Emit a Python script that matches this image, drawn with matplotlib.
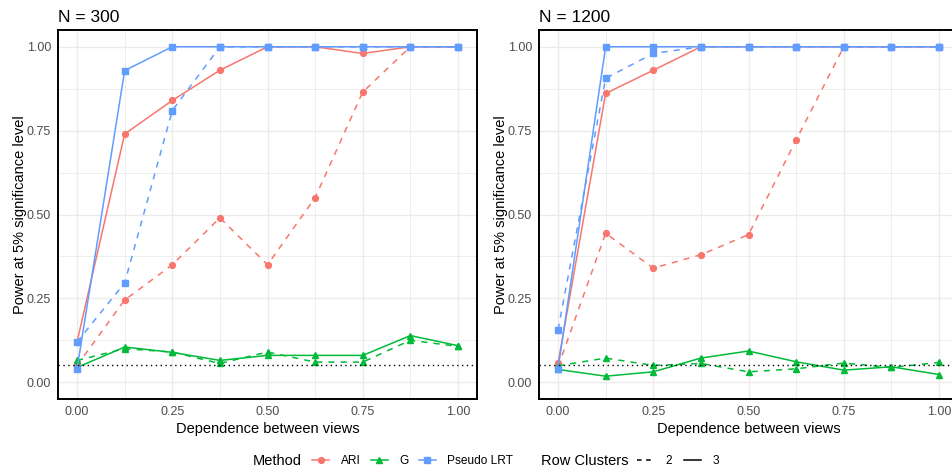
import numpy as np
import matplotlib.pyplot as plt
from matplotlib.lines import Line2D

plt.rcParams['font.family'] = ['Liberation Sans', 'DejaVu Sans']

# dependence between views (x axis)
dependence = [0, 0.125, 0.25, 0.375, 0.5, 0.625, 0.75, 0.875, 1.0]
titles = ['N = 300', 'N = 1200']

# N = 300
ari_2_n300 = [0.05, 0.245, 0.35, 0.49, 0.35, 0.55, 0.865, 1.0, 1.0]
ari_3_n300 = [0.12, 0.74, 0.84, 0.93, 1.0, 1.0, 0.98, 1.0, 1.0]
g_2_n300 = [0.065, 0.10, 0.09, 0.056, 0.09, 0.06, 0.06, 0.125, 0.107]
g_3_n300 = [0.044, 0.105, 0.089, 0.065, 0.08, 0.08, 0.08, 0.139, 0.109]
lrt_2_n300 = [0.12, 0.296, 0.81, 1.0, 1.0, 1.0, 1.0, 1.0, 1.0]
lrt_3_n300 = [0.04, 0.929, 1.0, 1.0, 1.0, 1.0, 1.0, 1.0, 1.0]

# N = 1200
ari_2_n1200 = [0.046, 0.444, 0.34, 0.38, 0.44, 0.722, 1.0, 1.0, 1.0]
ari_3_n1200 = [0.056, 0.861, 0.93, 1.0, 1.0, 1.0, 1.0, 1.0, 1.0]
g_2_n1200 = [0.049, 0.072, 0.05, 0.056, 0.031, 0.04, 0.057, 0.044, 0.059]
g_3_n1200 = [0.038, 0.018, 0.031, 0.072, 0.093, 0.061, 0.036, 0.046, 0.023]
lrt_2_n1200 = [0.157, 0.906, 0.98, 1.0, 1.0, 1.0, 1.0, 1.0, 1.0]
lrt_3_n1200 = [0.04, 1.0, 1.0, 1.0, 1.0, 1.0, 1.0, 1.0, 1.0]

methods = ['ARI', 'G', 'Pseudo LRT']
colors = {'ARI': '#F8766D', 'G': '#00BA38', 'Pseudo LRT': '#619CFF'}
markers = {'ARI': 'o', 'G': '^', 'Pseudo LRT': 's'}
msize = {'ARI': 4.2, 'G': 5.0, 'Pseudo LRT': 4.5}

panels = [
    {'ARI': (ari_2_n300, ari_3_n300), 'G': (g_2_n300, g_3_n300),
     'Pseudo LRT': (lrt_2_n300, lrt_3_n300)},
    {'ARI': (ari_2_n1200, ari_3_n1200), 'G': (g_2_n1200, g_3_n1200),
     'Pseudo LRT': (lrt_2_n1200, lrt_3_n1200)},
]

W, H = 952, 473
fig = plt.figure(figsize=(W / 100, H / 100), dpi=100)

ax_lefts = [58, 539]
axes = []
for k, left in enumerate(ax_lefts):
    ax = fig.add_axes([left / W, 1 - 399 / H, 419 / W, (399 - 30) / H])
    axes.append(ax)
    data = panels[k]
    for m in methods:
        y2, y3 = data[m]
        ax.plot(dependence, y2, color=colors[m], lw=1.1, dashes=(4, 4),
                marker=markers[m], ms=msize[m], zorder=3)
        ax.plot(dependence, y3, color=colors[m], lw=1.1, ls='-',
                marker=markers[m], ms=msize[m], zorder=3)
    ax.axhline(0.05, color='black', lw=1.0, ls=(0, (1, 2.5)), zorder=4)

    ax.set_xlim(-0.05, 1.05)
    ax.set_ylim(-0.05, 1.05)
    ax.set_xticks([0, 0.25, 0.5, 0.75, 1.0])
    ax.set_xticklabels(['0.00', '0.25', '0.50', '0.75', '1.00'])
    ax.set_yticks([0, 0.25, 0.5, 0.75, 1.0])
    ax.set_yticklabels(['0.00', '0.25', '0.50', '0.75', '1.00'])
    ax.set_xticks(dependence[1::2], minor=True)
    ax.set_yticks([0.125, 0.375, 0.625, 0.875], minor=True)
    ax.grid(True, which='major', color='#EBEBEB', lw=1.0)
    ax.grid(True, which='minor', color='#EBEBEB', lw=0.6)
    ax.set_axisbelow(True)
    ax.tick_params(which='both', length=0, labelsize=9, labelcolor='#4D4D4D', pad=5)
    for sp in ax.spines.values():
        sp.set_color('black')
        sp.set_linewidth(1.4)
    ax.set_xlabel('Dependence between views', fontsize=10.5, labelpad=3)
    ax.set_ylabel('Power at 5% significance level', fontsize=10.5, labelpad=0)
    ax.set_title(titles[k], loc='left', fontsize=12.5, pad=6)

# legends
fig.text(253 / W, 1 - 461 / H, 'Method', fontsize=10.5, va='center', ha='left')
method_handles = [Line2D([], [], color=colors[m], lw=1.1, marker=markers[m], ms=4.2)
                  for m in methods]
leg1 = fig.legend(method_handles, methods, loc='center left', ncol=3,
                  bbox_to_anchor=(312 / W, 1 - 461 / H), frameon=False,
                  fontsize=8.6, handlelength=1.45, handletextpad=0.95,
                  columnspacing=0.85, borderpad=0, borderaxespad=0)
fig.text(541 / W, 1 - 461 / H, 'Row Clusters', fontsize=10.5, va='center', ha='left')
ls_handles = [Line2D([], [], color='black', lw=1.1, dashes=(3, 3)),
              Line2D([], [], color='black', lw=1.1, ls='-')]
leg2 = fig.legend(ls_handles, ['2', '3'], loc='center left', ncol=2,
                  bbox_to_anchor=(637 / W, 1 - 461 / H), frameon=False,
                  fontsize=8.6, handlelength=1.45, handletextpad=0.95,
                  columnspacing=0.95, borderpad=0, borderaxespad=0)

fig.savefig('out.png', dpi=100)
